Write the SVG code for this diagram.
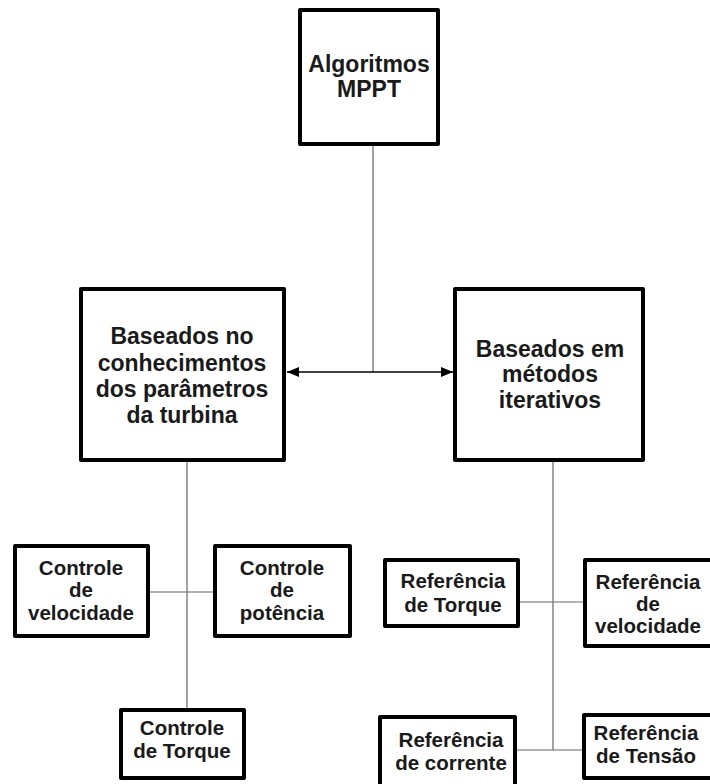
<svg xmlns="http://www.w3.org/2000/svg" width="710" height="784" viewBox="0 0 710 784">
  <style>
    .box { fill: #ffffff; stroke: #000000; stroke-width: 4; stroke-linejoin: round; }
    .lbl { font-family: "Liberation Sans", Arial, sans-serif; font-weight: bold; fill: #1a1a1a; text-anchor: middle; }
    .big { font-size: 23px; }
    .small { font-size: 20.5px; }
    .link { stroke: #666666; stroke-width: 1.2; fill: none; }
    .arrow { stroke: #000000; stroke-width: 1.6; fill: none; }
  </style>
  <defs>
    <marker id="head" viewBox="0 0 12 10" refX="12" refY="5" markerWidth="12" markerHeight="10" markerUnits="userSpaceOnUse" orient="auto-start-reverse">
      <path d="M0,0 L12,5 L0,10 Z" fill="#000000"/>
    </marker>
  </defs>
  <rect width="710" height="784" fill="#ffffff"/>

  <g id="connectors">
    <line class="link" x1="373" y1="146" x2="373" y2="372"/>
    <line class="arrow" x1="287" y1="372" x2="453" y2="372" marker-start="url(#head)" marker-end="url(#head)"/>
    <line class="link" x1="187" y1="462" x2="187" y2="708"/>
    <line class="link" x1="150" y1="592" x2="213" y2="592"/>
    <line class="link" x1="553" y1="462" x2="553" y2="750"/>
    <line class="link" x1="520" y1="602" x2="583" y2="602"/>
    <line class="link" x1="517" y1="750" x2="582" y2="750"/>
  </g>

  <g id="algoritmos-mppt">
    <rect class="box" x="300" y="10" width="138" height="134"/>
    <text class="lbl big" x="369" y="72">Algoritmos</text>
    <text class="lbl big" x="369" y="97">MPPT</text>
  </g>

  <g id="parametros-turbina">
    <rect class="box" x="81" y="289" width="203" height="171"/>
    <text class="lbl big" x="182" y="344">Baseados no</text>
    <text class="lbl big" x="182" y="371">conhecimentos</text>
    <text class="lbl big" x="182" y="397">dos parâmetros</text>
    <text class="lbl big" x="182" y="423">da turbina</text>
  </g>

  <g id="metodos-iterativos">
    <rect class="box" x="455" y="289" width="188" height="171"/>
    <text class="lbl big" x="550" y="357">Baseados em</text>
    <text class="lbl big" x="550" y="382">métodos</text>
    <text class="lbl big" x="550" y="408">iterativos</text>
  </g>

  <g id="controle-velocidade">
    <rect class="box" x="15" y="546" width="133" height="90"/>
    <text class="lbl small" x="81" y="575">Controle</text>
    <text class="lbl small" x="81" y="597">de</text>
    <text class="lbl small" x="81" y="620">velocidade</text>
  </g>

  <g id="controle-potencia">
    <rect class="box" x="215" y="546" width="135" height="90"/>
    <text class="lbl small" x="282" y="575">Controle</text>
    <text class="lbl small" x="282" y="597">de</text>
    <text class="lbl small" x="282" y="620">potência</text>
  </g>

  <g id="controle-torque">
    <rect class="box" x="121" y="710" width="123" height="68"/>
    <text class="lbl small" x="182" y="735">Controle</text>
    <text class="lbl small" x="182" y="758">de Torque</text>
  </g>

  <g id="referencia-torque">
    <rect class="box" x="385" y="560" width="133" height="66"/>
    <text class="lbl small" x="453" y="588">Referência</text>
    <text class="lbl small" x="453" y="612">de Torque</text>
  </g>

  <g id="referencia-velocidade">
    <rect class="box" x="585" y="560" width="132" height="86"/>
    <text class="lbl small" x="648" y="589">Referência</text>
    <text class="lbl small" x="648" y="611">de</text>
    <text class="lbl small" x="648" y="633">velocidade</text>
  </g>

  <g id="referencia-corrente">
    <rect class="box" x="380" y="717" width="135" height="72"/>
    <text class="lbl small" x="451" y="747">Referência</text>
    <text class="lbl small" x="451" y="770">de corrente</text>
  </g>

  <g id="referencia-tensao">
    <rect class="box" x="584" y="715" width="132" height="63"/>
    <text class="lbl small" x="646" y="740">Referência</text>
    <text class="lbl small" x="646" y="763">de Tensão</text>
  </g>
</svg>
